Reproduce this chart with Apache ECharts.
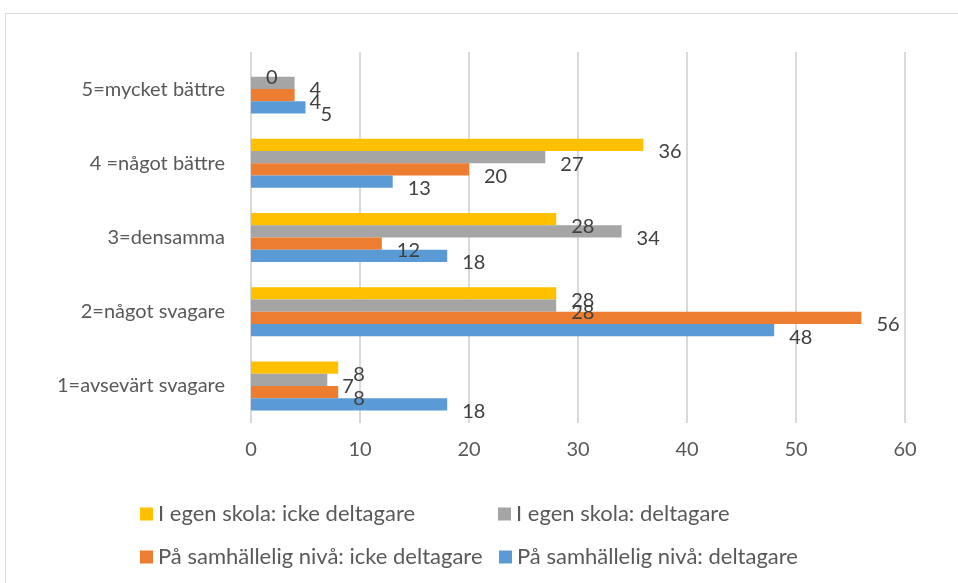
<!DOCTYPE html>
<html>
<head>
<meta charset="utf-8">
<script src="https://cdn.jsdelivr.net/npm/echarts@6/dist/echarts.min.js"></script>
<style>
    html, body { margin: 0; padding: 0; background: #fff; }
    #chart { width: 958px; height: 583px; }
</style>
</head>
<body>
<div id="chart"></div>
<script>
    // kategorier nedifrån och upp
    let categories = ['1=avsevärt svagare', '2=något svagare', '3=densamma', '4 =något bättre', '5=mycket bättre'];
    let egenIcke = [8, 28, 28, 36, 0];
    let egenDelt = [7, 28, 34, 27, 4];
    let samhIcke = [8, 56, 12, 20, 4];
    let samhDelt = [18, 48, 18, 13, 5];
    let xTicks = [0, 60, 10];

    let names = ['I egen skola: icke deltagare', 'I egen skola: deltagare',
        'På samhällelig nivå: icke deltagare', 'På samhällelig nivå: deltagare'];
    let colors = ['#FFC000', '#A5A5A5', '#ED7D31', '#5B9BD5'];
    let values = [egenIcke, egenDelt, samhIcke, samhDelt];

    let chart = echarts.init(document.getElementById('chart'));

    function makeSeries(i) {
        return {
            name: names[i],
            type: 'bar',
            data: values[i],
            barGap: '0%',
            barCategoryGap: '34%',
            itemStyle: { color: colors[i] },
            label: {
                show: true,
                position: 'right',
                offset: [10, 7],
                color: '#404040',
                fontSize: 20,
                fontFamily: 'Lato'
            }
        };
    }

    // i v6 hamnar första serien överst
    let series = [0, 1, 2, 3].map(makeSeries);

    let legendPos = [[135, 498], [493, 498], [135, 541], [494, 541]];
    let legends = legendPos.map(function (p, i) {
        return {
            data: [names[i]],
            left: p[0],
            top: p[1],
            icon: 'rect',
            itemWidth: 13,
            itemHeight: 13,
            itemGap: 5,
            textStyle: { color: '#595959', fontSize: 22, fontFamily: 'Lato' }
        };
    });

    chart.setOption({
        animation: false,
        graphic: [{
            type: 'rect',
            shape: { x: 5.5, y: 13.5, width: 1000, height: 1000 },
            style: { fill: 'none', stroke: '#d9d9d9', lineWidth: 1 }
        }],
        legend: legends,
        grid: { left: 251, right: 53, top: 52, bottom: 160 },
        xAxis: {
            type: 'value',
            min: xTicks[0],
            max: xTicks[1],
            interval: xTicks[2],
            axisLine: { show: false },
            axisTick: { show: false },
            axisLabel: { color: '#595959', fontSize: 20, fontFamily: 'Lato', margin: 17 },
            splitLine: { lineStyle: { color: '#d9d9d9', width: 2 } }
        },
        yAxis: {
            type: 'category',
            data: categories,
            axisLine: { show: false },
            axisTick: { show: false },
            axisLabel: { color: '#595959', fontSize: 20, fontFamily: 'Lato', margin: 26 }
        },
        series: series
    });
</script>
</body>
</html>
